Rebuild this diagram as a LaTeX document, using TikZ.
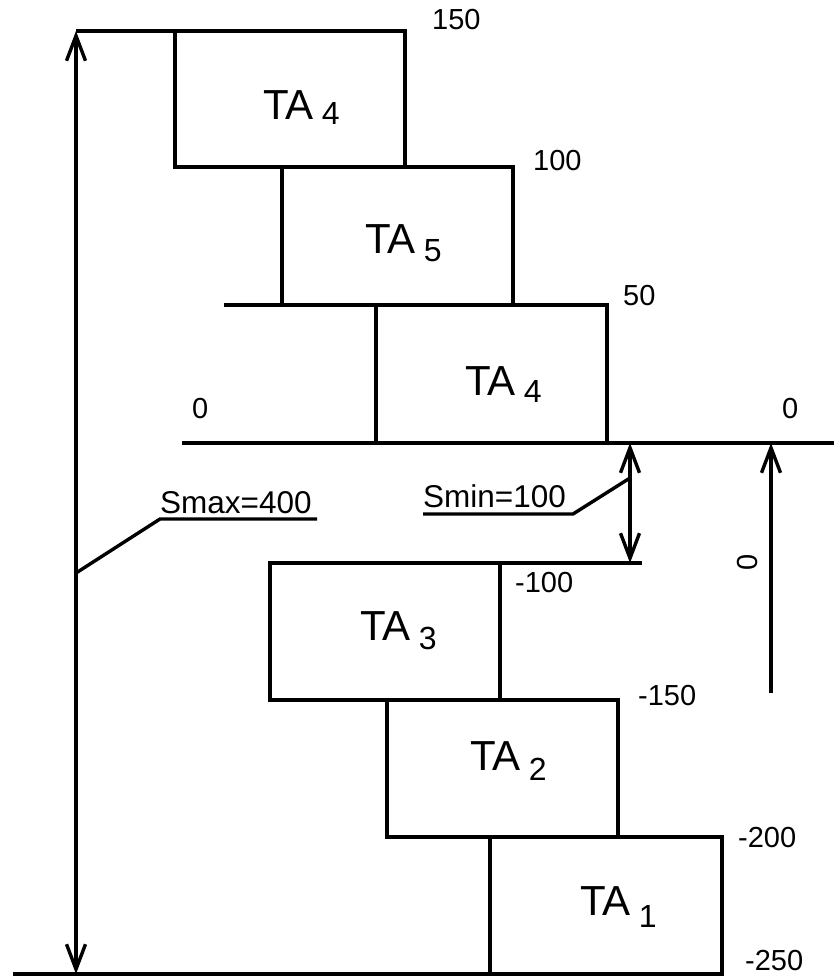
\documentclass[tikz,border=0pt]{standalone}
\usepackage{fontspec}
\setmainfont{Liberation Sans}
\usetikzlibrary{arrows.meta}
\tikzset{
  ln/.style={line width=3.4pt},
  barb/.tip={Straight Barb[length=25pt,width=19pt,line width=3.4pt]},
  num/.style={font=\fontsize{29}{29}\selectfont, inner sep=0pt, anchor=base west},
  slabel/.style={font=\fontsize{31.5}{31.5}\selectfont, inner sep=0pt, anchor=base west},
  ta/.style={font=\fontsize{42}{42}\selectfont, inner sep=0pt, anchor=base west},
}
\newcommand\tasub[2]{TA\hspace{8pt}\raisebox{-#2pt}{\fontsize{32}{32}\selectfont #1}}
\begin{document}
\begin{tikzpicture}[x=1pt,y=-1pt]
\useasboundingbox (0,0) rectangle (834,976);
% coordinates
\coordinate (Ltop) at (76,31);
\coordinate (Lbot) at (76,974);
\coordinate (Lmid) at (76,573);
\coordinate (SmaxK) at (160,519);
\coordinate (SmaxE) at (317,519);
\coordinate (Mtop) at (630,443);
\coordinate (Mbot) at (630,563);
\coordinate (Mmid) at (630,478);
\coordinate (SminK) at (573,514);
\coordinate (SminE) at (423,514);
\coordinate (Rtop) at (771,443);
\coordinate (Rbot) at (771,693);
% boxes
\draw[ln] (175,31) rectangle (405,167);
\draw[ln] (282,167) rectangle (513,305);
\draw[ln] (376,305) rectangle (607,443);
\draw[ln] (270,563) rectangle (500,700);
\draw[ln] (387,700) rectangle (618,837);
\draw[ln] (490,837) rectangle (722,974);
% extra lines
\draw[ln] (Ltop) -- (175,31);
\draw[ln] (224,305) -- (376,305);
\draw[ln] (182,443) -- (834,443);
\draw[ln] (268,563) -- (642,563);
\draw[ln] (13,974) -- (722,974);
% dimension arrows
\draw[ln,{barb}-{barb}] (Ltop) -- (Lbot);
\draw[ln,{barb}-{barb}] (Mtop) -- (Mbot);
\draw[ln,-{barb}] (Rbot) -- (Rtop);
% leaders
\draw[ln] (Lmid) -- (SmaxK) -- (SmaxE);
\draw[ln] (Mmid) -- (SminK) -- (SminE);
% labels
\node[num] (l150) at (432,30) {150};
\node[num] (l100) at (533,171) {100};
\node[num] (l50) at (623,305) {50};
\node[num] (l0a) at (192,418) {0};
\node[num] (l0b) at (782,418) {0};
\node[num] (lm100) at (515,592) {-100};
\node[num] (lm150) at (638,705) {-150};
\node[num] (lm200) at (738,847) {-200};
\node[num] (lm250) at (745,970) {-250};
\node[slabel] (smax) at (160,513) {Smax=400};
\node[slabel] (smin) at (423,507) {Smin=100};
\node[font=\fontsize{29}{29}\selectfont, inner sep=0pt, rotate=90] (l0c) at (748,562) {0};
% box texts
\node[ta] (t4a) at (263,120) {\tasub{4}{5}};
\node[ta] (t5) at (365,253) {\tasub{5}{9}};
\node[ta] (t4b) at (465,395) {\tasub{4}{7}};
\node[ta] (t3) at (360,640) {\tasub{3}{9}};
\node[ta] (t2) at (470,770) {\tasub{2}{10}};
\node[ta] (t1) at (580,915) {\tasub{1}{12}};
\end{tikzpicture}
\end{document}
